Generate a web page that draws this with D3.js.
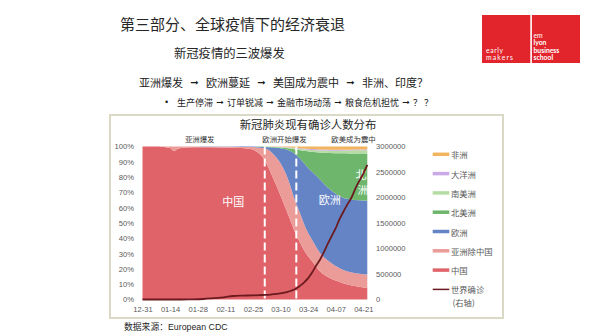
<!DOCTYPE html>
<html><head><meta charset="utf-8">
<script src="https://cdn.jsdelivr.net/npm/d3@7"></script>
<style>
html,body{margin:0;padding:0;background:#fff;}
svg{display:block;font-family:"Liberation Sans","Noto Sans CJK SC",sans-serif;}
.cjk{font-family:"Noto Sans CJK SC","Liberation Sans",sans-serif;}
</style></head><body>
<svg id="chart" width="600" height="335"></svg>
<script>
// Share of active cases by region (percent), sampled dates
const shareDates = ["2019-12-31","2020-01-08","2020-01-14","2020-01-16","2020-01-18","2020-01-22","2020-01-30",
  "2020-02-09","2020-02-19","2020-02-23","2020-02-27","2020-03-02","2020-03-06","2020-03-10","2020-03-14",
  "2020-03-17","2020-03-20","2020-03-23","2020-03-26","2020-03-30","2020-04-04","2020-04-09","2020-04-14",
  "2020-04-19","2020-04-23"];
const shareChina     = [100,100,99,97,98.5,99.3,99.5,99.4,99,98.5,96.5,91,80,68,55,45,37,30,25,18.5,14,11.5,9.5,8.3,7.5];
const shareAsiaOther = [0,0,1,3,1.5,0.7,0.4,0.4,0.7,1.1,2.9,7.8,15.5,21,23,21,19,16,14,12,10.5,9,8.5,8.5,8.8];
const shareEurope    = [0,0,0,0,0,0,0.1,0.2,0.3,0.4,0.5,0.9,3.9,9.8,19.5,29.5,36,41.5,44.5,48,47.5,47,47.5,48,48.2];
const shareNAmerica  = [0,0,0,0,0,0,0,0,0,0,0.1,0.2,0.3,0.6,1.3,2.7,5.5,9.5,13,17.5,23.8,28.1,30,30.7,31];
const shareSAmerica  = [0,0,0,0,0,0,0,0,0,0,0,0.1,0.1,0.2,0.4,0.6,0.8,1,1.2,1.4,1.5,1.7,1.9,2,2];
const shareOceania   = [0,0,0,0,0,0,0,0,0,0,0,0,0.1,0.2,0.3,0.4,0.5,0.5,0.6,0.6,0.6,0.5,0.5,0.5,0.5];
const shareAfrica    = [0,0,0,0,0,0,0,0,0,0,0,0,0.1,0.2,0.5,0.8,1.2,1.5,1.7,2,2.1,2.2,2.1,2,2];

// World cumulative confirmed cases (right axis)
const worldDates = ["2019-12-31","2020-01-10","2020-01-20","2020-01-25","2020-01-31","2020-02-05","2020-02-10",
  "2020-02-15","2020-02-20","2020-02-25","2020-03-01","2020-03-05","2020-03-10","2020-03-15","2020-03-18",
  "2020-03-20","2020-03-22","2020-03-24","2020-03-26","2020-03-28","2020-03-30","2020-04-01","2020-04-03",
  "2020-04-05","2020-04-07","2020-04-09","2020-04-11","2020-04-13","2020-04-15","2020-04-17","2020-04-19",
  "2020-04-21","2020-04-23"];
const worldCases = [27,41,282,2000,9800,28000,43000,69000,76000,80400,88500,97000,118000,167000,215000,
  272000,337000,418000,530000,660000,780000,930000,1095000,1250000,1400000,1580000,1730000,1870000,
  2000000,2180000,2330000,2470000,2640000];

const seriesNames  = ["中国","亚洲除中国","欧洲","北美洲","南美洲","大洋洲","非洲"];
const seriesColors = ["#e1636a","#eb9c98","#6584c6","#6db66c","#b5dda3","#c9a9e6","#f2b45f"];
const seriesValues = [shareChina,shareAsiaOther,shareEurope,shareNAmerica,shareSAmerica,shareOceania,shareAfrica];
const worldName = "世界确诊";
const worldColor = "#6b1b1f";

const phaseDates  = ["2020-03-02","2020-03-18"];
const phaseLabels = [["亚洲爆发","2020-01-29"],["欧洲开始爆发","2020-03-12"],["欧美成为震中","2020-04-16"]];

const waveSteps  = ["亚洲爆发","欧洲蔓延","美国成为震中","非洲、印度？"];
const chainSteps = ["生产停滞","订单锐减","金融市场动荡","粮食危机担忧","？ ？"];

const parse = d3.timeParse("%Y-%m-%d");
const svg = d3.select("#chart");

// ---- slide header ----
svg.append("text").attr("class","cjk").attr("x",120).attr("y",23).attr("dominant-baseline","central")
  .attr("font-size",15).attr("fill","#262626").text("第三部分、全球疫情下的经济衰退");
svg.append("text").attr("class","cjk").attr("x",174).attr("y",53).attr("dominant-baseline","central")
  .attr("font-size",12.3).attr("fill","#262626").text("新冠疫情的三波爆发");

// lays out text segments left to right with an arrow centred in each gap
function arrowChain(steps, x0, y, size, gap, arrowSize) {
  let cx = x0;
  steps.forEach((s,i) => {
    const t = svg.append("text").attr("class","cjk").attr("x",cx).attr("y",y)
      .attr("dominant-baseline","central").attr("font-size",size).attr("fill","#1a1a1a").text(s);
    cx += t.node().getComputedTextLength();
    if (i < steps.length - 1) {
      svg.append("text").attr("x",cx + gap/2).attr("y",y).attr("text-anchor","middle")
        .attr("dominant-baseline","central").attr("font-size",arrowSize).attr("font-weight","bold")
        .attr("font-family","DejaVu Sans").attr("fill","#1a1a1a").text("➞");
      cx += gap;
    }
  });
}
arrowChain(waveSteps, 139, 82, 11, 23, 10);
svg.append("text").attr("x",165).attr("y",102).attr("dominant-baseline","central")
  .attr("font-size",9).attr("fill","#1a1a1a").text("•");
arrowChain(chainSteps, 177, 102, 9, 14, 9);

// ---- logo ----
const logo = svg.append("g").attr("font-family","Lato, Liberation Sans").attr("fill","#fff").attr("font-size",6.8);
logo.append("rect").attr("x",482).attr("y",15).attr("width",98).attr("height",48).attr("fill","#e2252c");
logo.append("rect").attr("x",530.3).attr("y",15).attr("width",1.6).attr("height",48).attr("fill","#fff");
[["early",50,"400"],["makers",57.3,"400"]].forEach(([t,y,w]) =>
  logo.append("text").attr("x",486).attr("y",y).attr("dominant-baseline","central")
    .attr("font-weight",w).attr("textLength",t.length === 5 ? 17 : 27).text(t));
[["em",35,"400"],["lyon",42.3,"700"],["business",49.7,"700"],["school",57,"700"]].forEach(([t,y,w]) =>
  logo.append("text").attr("x",533.5).attr("y",y).attr("dominant-baseline","central")
    .attr("font-weight",w).text(t));

// ---- chart frame ----
svg.append("rect").attr("x",110).attr("y",115).attr("width",393).attr("height",203)
  .attr("fill","none").attr("stroke","#d9d9c6").attr("stroke-width",2);
svg.append("text").attr("class","cjk").attr("x",308).attr("y",124).attr("text-anchor","middle")
  .attr("dominant-baseline","central").attr("font-size",11.4).attr("fill","#262626").text("新冠肺炎现有确诊人数分布");

// ---- scales ----
const x = d3.scaleTime().domain([parse("2019-12-31"), parse("2020-04-23")]).range([142.5, 367.3]);
const yShare = d3.scaleLinear().domain([0,1]).range([299.5,146.5]);
const yCases = d3.scaleLinear().domain([0,3000000]).range([299.5,146.5]);

// ---- stacked areas ----
const rows = shareDates.map((d,i) => {
  const r = {date: parse(d)};
  seriesNames.forEach((n,k) => r[n] = seriesValues[k][i]);
  return r;
});
const stacked = d3.stack().keys(seriesNames).offset(d3.stackOffsetExpand)(rows);
const area = d3.area().x(d => x(d.data.date)).y0(d => yShare(d[0])).y1(d => yShare(d[1]))
  .curve(d3.curveMonotoneX);
svg.append("g").selectAll("path").data(stacked).join("path")
  .attr("d", area).attr("fill", (d,i) => seriesColors[i]);

// ---- phase dividers ----
svg.append("g").selectAll("line").data(phaseDates).join("line")
  .attr("x1", d => x(parse(d))).attr("x2", d => x(parse(d)))
  .attr("y1", yShare(1)).attr("y2", yShare(0))
  .attr("stroke","#fff").attr("stroke-width",2).attr("stroke-dasharray","8,4");
svg.append("g").selectAll("text").data(phaseLabels).join("text").attr("class","cjk")
  .attr("x", d => x(parse(d[1]))).attr("y",138).attr("text-anchor","middle").attr("dominant-baseline","central")
  .attr("font-size",7.4).attr("fill","#333").text(d => d[0]);

// ---- area labels ----
const areaLabel = (t,xx,yy) => svg.append("text").attr("class","cjk").attr("x",xx).attr("y",yy)
  .attr("text-anchor","middle").attr("dominant-baseline","central").attr("font-size",11)
  .attr("fill","#fff").text(t);
areaLabel("中国", x(parse("2020-02-15")), 201);
areaLabel("欧洲", x(parse("2020-04-04")), 199);
areaLabel("北", 361, 174);
areaLabel("洲", 363, 189);

// ---- world confirmed line ----
const line = d3.line().x((d,i) => x(parse(worldDates[i]))).y(d => yCases(d)).curve(d3.curveMonotoneX);
svg.append("path").attr("d", line(worldCases)).attr("fill","none")
  .attr("stroke",worldColor).attr("stroke-width",1.8);

// ---- axes ----
const axisStyle = g => {
  g.select(".domain").remove();
  g.selectAll("text").attr("fill","#595959").attr("font-size",7.6)
    .attr("font-family","Liberation Sans, sans-serif");
};
svg.append("g").attr("transform",`translate(${x.range()[0]},0)`)
  .call(d3.axisLeft(yShare).tickValues(d3.range(0,11).map(i => i/10)).tickFormat(d3.format(".0%"))
    .tickSize(0).tickPadding(8.5))
  .call(axisStyle);
svg.append("g").attr("transform",`translate(${x.range()[1]},0)`)
  .call(d3.axisRight(yCases).tickValues(d3.range(0,3000001,500000)).tickFormat(d3.format("d"))
    .tickSize(0).tickPadding(8.7))
  .call(axisStyle);
const start = parse("2019-12-31");
svg.append("g").attr("transform",`translate(0,${yShare(0)})`)
  .call(d3.axisBottom(x).tickValues(d3.range(0,113,14).map(k => d3.timeDay.offset(start,k)))
    .tickFormat(d3.timeFormat("%m-%d")).tickSize(0).tickPadding(7))
  .call(axisStyle);

// ---- legend ----
const legendItems = seriesNames.map((n,i) => ({name:n, color:seriesColors[i], w:3.5})).reverse()
  .concat([{name:worldName, color:worldColor, w:1.5}]);
const lg = svg.append("g");
legendItems.forEach((d,i) => {
  const yy = 154.3 + i*19.3;
  lg.append("line").attr("x1",432.7).attr("x2",449.3).attr("y1",yy).attr("y2",yy)
    .attr("stroke",d.color).attr("stroke-width",d.w);
  lg.append("text").attr("class","cjk").attr("x",451).attr("y",yy).attr("dominant-baseline","central")
    .attr("font-size",8.3).attr("fill","#595959").text(d.name);
});
lg.append("text").attr("class","cjk").attr("x",452.5).attr("y",301.8).attr("dominant-baseline","central")
  .attr("font-size",8.3).attr("fill","#595959").text("(右轴)");

// ---- source note ----
svg.append("text").attr("x",124).attr("y",327).attr("dominant-baseline","central")
  .attr("font-size",8.8).attr("fill","#262626").text("数据来源：European CDC");
</script></body></html>
